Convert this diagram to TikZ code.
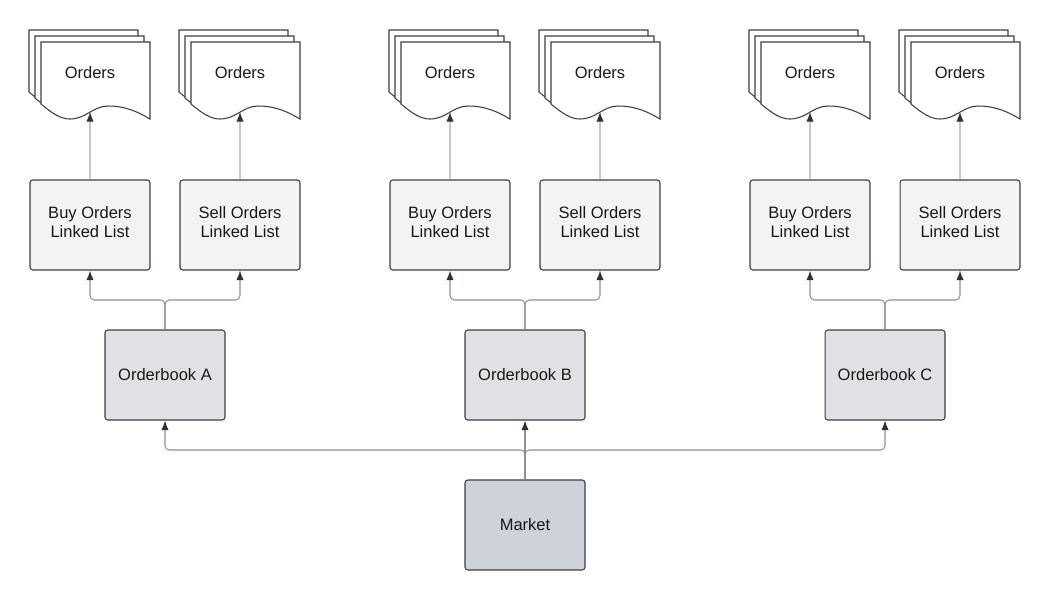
\documentclass[tikz,border=0pt]{standalone}
\usepackage{fontspec}
\setmainfont{Liberation Sans}
\usetikzlibrary{arrows.meta}
\definecolor{linec}{HTML}{3A3F47}
\definecolor{wirec}{HTML}{8E9196}
\definecolor{faintc}{HTML}{C6C8CB}
\definecolor{tipc}{HTML}{2B313B}
\definecolor{listc}{HTML}{F2F3F5}
\definecolor{bookc}{HTML}{DFE1E5}
\definecolor{mktc}{HTML}{CED3DB}

% one page of the stack, #1,#2 = top left corner
\newcommand{\sheet}[2]{%
  \draw[linec,fill=white,line width=0.6pt] ({#1},{#2}) -- ({#1},{#2+62})
    .. controls ({#1+12},{#2+72}) and ({#1+20},{#2+77}) .. ({#1+29},{#2+77})
    .. controls ({#1+45},{#2+77}) and ({#1+52},{#2+64}) .. ({#1+67},{#2+64})
    .. controls ({#1+85},{#2+64}) and ({#1+97},{#2+70}) .. ({#1+109},{#2+77})
    -- ({#1+109},{#2}) -- cycle;}
% stack of three pages, #1 = name, #2,#3 = top left of the back page
\newcommand{\orders}[3]{%
  \sheet{#2}{#3}
  \sheet{#2+6}{#3+6}
  \sheet{#2+12}{#3+12}
  \node(#1) at ({#2+61},{#3+43}) {Orders};
  \coordinate(#1-w) at ({#2+61},{#3+82});}

\begin{document}
\begin{tikzpicture}[x=0.02cm,y=-0.02cm,
    every node/.style={font=\fontsize{9.4}{11.3}\selectfont,text=black!90,align=center},
    box/.style={draw=linec,line width=0.6pt,rounded corners=1.6pt,minimum width=2.4cm,minimum height=1.8cm},
    list/.style={box,fill=listc,text depth=3.4pt},
    wire/.style={draw=wirec,line width=0.6pt,rounded corners=2.5pt,-{Latex[length=5.5pt,width=4.2pt,color=tipc]}},
    feed/.style={wire,draw=faintc}]
    \useasboundingbox (0,0) rectangle (1050,600);

    \node(mkt)[box,fill=mktc] at (525,525) {Market};

    \foreach \g/\dx in {A/0,B/360,C/720}{
        \node(o\g)[box,fill=bookc] at (165+\dx,375) {Orderbook \g};
        \node(b\g)[list] at (90+\dx,225) {Buy Orders\\Linked List};
        \node(s\g)[list] at (240+\dx,225) {Sell Orders\\Linked List};
        \orders{db\g}{29+\dx}{30}
        \orders{ds\g}{179+\dx}{30}

        \coordinate(j\g) at (165+\dx,300);
        \draw[wire] (o\g.north) -- (j\g) -| (b\g.south);
        \draw[wire] (o\g.north) -- (j\g) -| (s\g.south);
        \draw[feed] (b\g.north) -- (db\g-w);
        \draw[feed] (s\g.north) -- (ds\g-w);
    }

    \coordinate(m) at (525,450);
    \draw[wire] (mkt.north) -- (m) -| (oA.south);
    \draw[wire] (mkt.north) -- (oB.south);
    \draw[wire] (mkt.north) -- (m) -| (oC.south);
\end{tikzpicture}
\end{document}
